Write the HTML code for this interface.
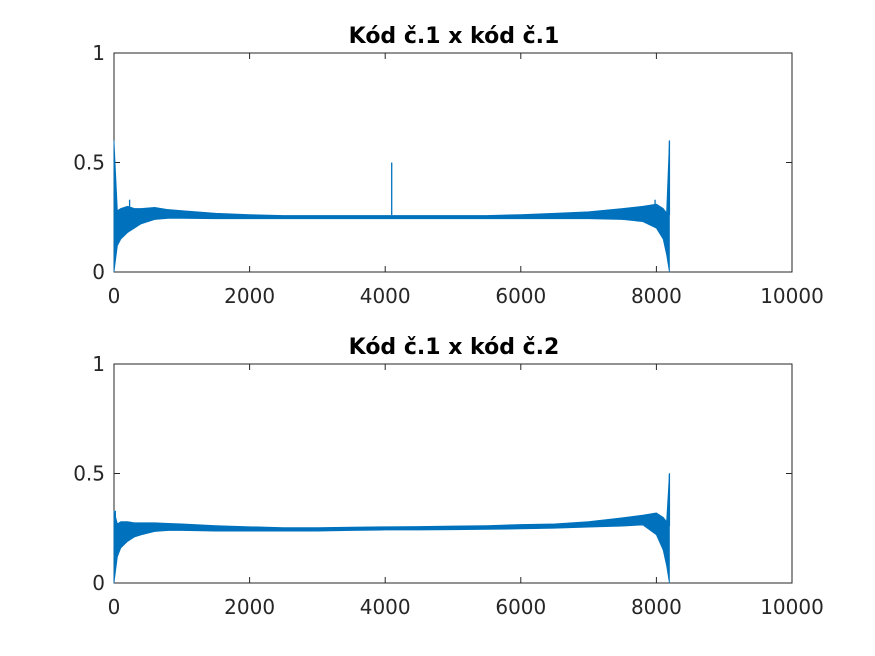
<!DOCTYPE html>
<html><head><meta charset="utf-8"><style>
html,body{margin:0;padding:0;background:#fff;}
svg{display:block;font-family:"DejaVu Sans","Liberation Sans",sans-serif;}
</style></head><body>
<svg id="chart" width="875" height="656"></svg>
<script>
const xs   = [0,50,100,200,300,400,600,800,1000,1500,2000,2500,3000,3500,4000,4500,5000,5500,6000,6500,7000,7500,7800,8000,8100,8150,8192];
const lowA = [0,0.12,0.15,0.18,0.2,0.22,0.24,0.245,0.245,0.243,0.243,0.243,0.243,0.243,0.243,0.243,0.243,0.243,0.243,0.243,0.243,0.24,0.23,0.2,0.15,0.08,0];
const highA= [0.6,0.28,0.29,0.3,0.29,0.29,0.295,0.285,0.28,0.268,0.262,0.258,0.258,0.258,0.258,0.258,0.258,0.258,0.262,0.268,0.275,0.29,0.3,0.31,0.29,0.27,0.6];
const spikesA = [[230,0.33],[4096,0.5],[7980,0.33],[8192,0.6]];
const lowB = [0,0.12,0.16,0.19,0.21,0.22,0.235,0.24,0.24,0.237,0.237,0.237,0.237,0.24,0.242,0.242,0.243,0.245,0.247,0.25,0.255,0.26,0.265,0.22,0.15,0.08,0];
const highB= [0.33,0.27,0.28,0.28,0.275,0.275,0.275,0.272,0.27,0.262,0.257,0.253,0.253,0.255,0.257,0.258,0.26,0.262,0.267,0.27,0.28,0.298,0.31,0.32,0.3,0.28,0.5];
const spikesB = [[20,0.33],[8000,0.32],[8192,0.5]];
const xTicks = [0,2000,4000,6000,8000,10000];
const yTicks = [0,0.5,1];

const NS="http://www.w3.org/2000/svg";
const svg=document.getElementById('chart');
function mk(t,a,p){const e=document.createElementNS(NS,t);for(const k in a)e.setAttribute(k,a[k]);(p||svg).appendChild(e);return e;}

function panel(top,title,low,high,spikes,id){
  const L=114,R=792,T=top,B=top+219;
  const sx=v=>L+(v/10000)*(R-L);
  const sy=v=>B-v*(B-T);
  const g=mk('g',{});
  
  
  const box=mk('rect',{x:L,y:T,width:R-L,height:B-T,fill:'#fff',stroke:'#262626','stroke-width':1},g);
  
  
  xTicks.forEach(v=>{
    mk('line',{x1:sx(v),x2:sx(v),y1:B,y2:B-6,stroke:'#262626'},g);
    mk('line',{x1:sx(v),x2:sx(v),y1:T,y2:T+6,stroke:'#262626'},g);
    const t=mk('text',{x:sx(v),y:B+31,'text-anchor':'middle','font-size':20,fill:'#262626'},g);
    t.textContent=String(v);
    
    
  });
  yTicks.forEach(v=>{
    mk('line',{x1:L,x2:L+6,y1:sy(v),y2:sy(v),stroke:'#262626'},g);
    mk('line',{x1:R,x2:R-6,y1:sy(v),y2:sy(v),stroke:'#262626'},g);
    const t=mk('text',{x:L-9,y:sy(v)+7,'text-anchor':'end','font-size':20,fill:'#262626'},g);
    t.textContent=String(v);
    
    
  });
  let d='M'+xs.map((x,i)=>sx(x)+','+sy(high[i])).join(' L');
  for(let i=xs.length-1;i>=0;i--) d+=' L'+sx(xs[i])+','+sy(low[i]);
  const band=mk('path',{d:d+'Z',fill:'#0072BD',stroke:'#0072BD','stroke-width':0.8,'stroke-linejoin':'round'},g);
  
  
  spikes.forEach(s=>{
    const l=mk('line',{x1:sx(s[0]),x2:sx(s[0]),y1:sy(0.26),y2:sy(s[1]),stroke:'#0072BD','stroke-width':1.3},g);
    
    
  });
  const tt=mk('text',{x:(L+R)/2+1,y:T-10,'text-anchor':'middle','font-size':22,'font-weight':'bold',fill:'#000'},g);
  tt.textContent=title;
  
  
}
panel(53,'Kód č.1 x kód č.1',lowA,highA,spikesA,'top');
panel(364,'Kód č.1 x kód č.2',lowB,highB,spikesB,'bottom');
</script>
</body></html>
